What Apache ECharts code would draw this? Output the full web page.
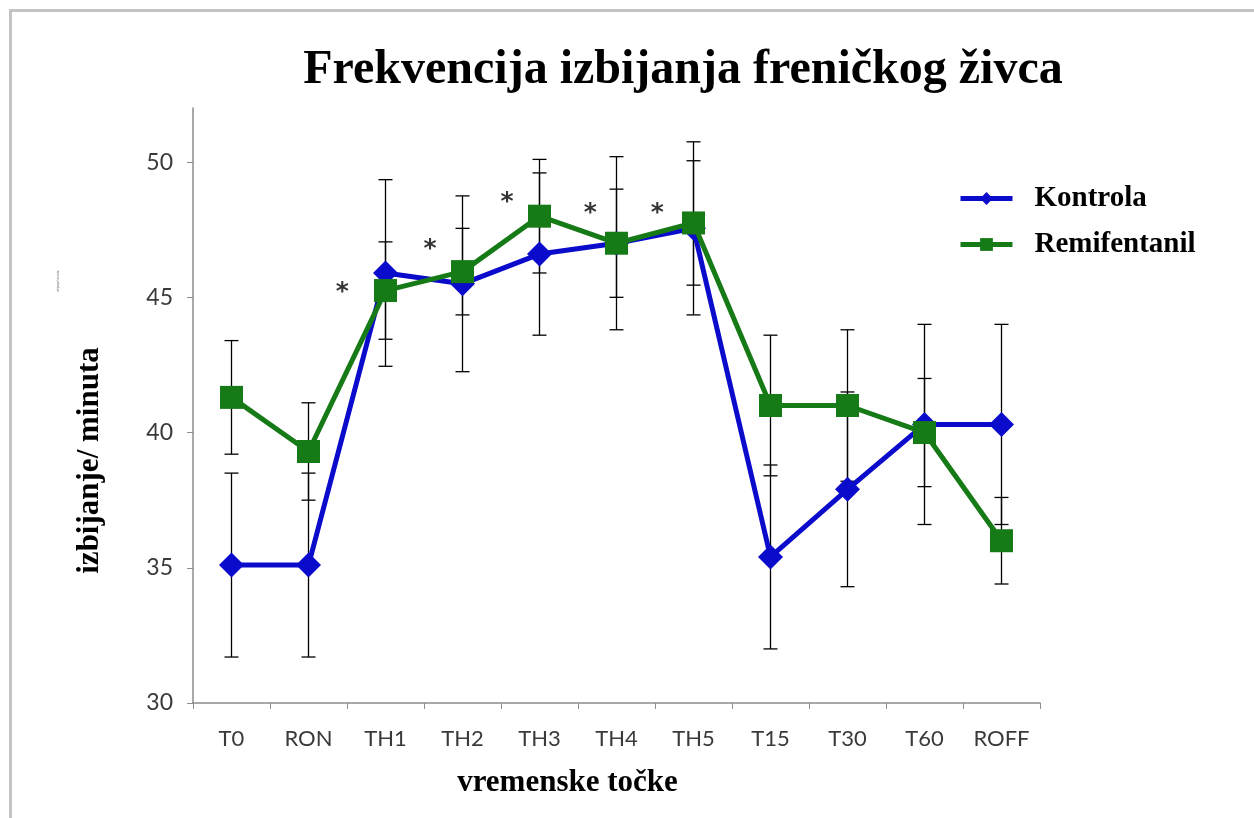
<!DOCTYPE html>
<html>
<head>
<meta charset="utf-8">
<title>Frekvencija izbijanja freničkog živca</title>
<script src="https://cdn.jsdelivr.net/npm/echarts@6/dist/echarts.min.js"></script>
<style>
	html, body { margin: 0; padding: 0; background: #fff; }
	#main { width: 1254px; height: 818px; }
</style>
</head>
<body>
<div id="main"></div>
<script>
	// kategorije (vremenske točke)
	var categories = ['T0', 'RON', 'TH1', 'TH2', 'TH3', 'TH4', 'TH5', 'T15', 'T30', 'T60', 'ROFF'];
	// srednje vrijednosti i SD, očitano sa slike
	var kontrola = [35.1, 35.1, 45.9, 45.5, 46.6, 47.0, 47.55, 35.4, 37.9, 40.3, 40.3];
	var kontrolaSD = [3.4, 3.4, 3.45, 3.25, 3.0, 3.2, 3.2, 3.4, 3.6, 3.7, 3.7];
	var remifentanil = [41.3, 39.3, 45.25, 45.95, 48.0, 47.0, 47.75, 41.0, 41.0, 40.0, 36.0];
	var remifentanilSD = [2.1, 1.8, 1.8, 1.6, 2.1, 2.0, 2.3, 2.6, 2.8, 2.0, 1.6];
	// zvjezdice (p < 0.05), x u jedinicama indeksa kategorije
	var starX = [1.44, 2.58, 3.58, 4.66, 5.53];
	var starY = [45.16, 46.78, 48.52, 48.11, 48.11];
	var yTicks = [30, 35, 40, 45, 50];

	var blue = '#0b0bcc';
	var green = '#167a16';

	function errData(mean, sd) {
		var out = [];
		for (var i = 0; i < mean.length; i++) {
			out.push([i, mean[i] - sd[i], mean[i] + sd[i]]);
		}
		return out;
	}

	function renderErr(params, api) {
		var x = api.value(0);
		var lo = api.coord([x, api.value(1)]);
		var hi = api.coord([x, api.value(2)]);
		var half = 7;
		var style = { stroke: '#000', lineWidth: 1.3 };
		return {
			type: 'group',
			children: [
				{ type: 'line', shape: { x1: lo[0], y1: lo[1], x2: hi[0], y2: hi[1] }, style: style },
				{ type: 'line', shape: { x1: lo[0] - half, y1: lo[1], x2: lo[0] + half, y2: lo[1] }, style: style },
				{ type: 'line', shape: { x1: hi[0] - half, y1: hi[1], x2: hi[0] + half, y2: hi[1] }, style: style }
			]
		};
	}

	var stars = [];
	for (var i = 0; i < starX.length; i++) stars.push([starX[i], starY[i]]);

	var chart = echarts.init(document.getElementById('main'));
	var option = {
		backgroundColor: '#fff',
		animation: false,
		title: {
			text: 'Frekvencija izbijanja freničkog živca',
			left: 678,
			textAlign: 'center',
			top: 42,
			textStyle: {
				fontFamily: 'Liberation Serif',
				fontWeight: 'bold',
				fontSize: 48,
				color: '#000'
			}
		},
		legend: {
			orient: 'vertical',
			left: 958,
			top: 184,
			padding: 0,
			itemWidth: 52,
			itemHeight: 16,
			itemGap: 17,
			data: ['Kontrola', 'Remifentanil'],
			lineStyle: { width: 5 },
			textStyle: {
				fontFamily: 'Liberation Serif',
				fontWeight: 'bold',
				fontSize: 29,
				lineHeight: 28,
				color: '#000',
				padding: [0, 0, 0, 17]
			}
		},
		grid: {
			left: 193,
			right: 214,
			top: 108,
			bottom: 115
		},
		xAxis: [{
			type: 'category',
			data: categories,
			boundaryGap: true,
			axisLine: { lineStyle: { color: '#8c8c8c', width: 1.5 } },
			axisTick: { show: true, length: 6, lineStyle: { color: '#8c8c8c' } },
			axisLabel: {
				margin: 25,
				fontFamily: 'Lato',
				fontSize: 22,
				color: '#3a3a3a'
			},
			name: 'vremenske točke',
			nameLocation: 'middle',
			nameGap: 64,
			nameTextStyle: {
				fontFamily: 'Liberation Serif',
				fontWeight: 'bold',
				fontSize: 31,
				color: '#000',
				padding: [0, 98, 0, 0]
			}
		}, {
			type: 'value',
			min: -0.5,
			max: 10.5,
			show: false
		}],
		yAxis: {
			type: 'value',
			min: 30,
			max: 52,
			interval: 5,
			splitLine: { show: false },
			axisLine: { show: true, onZero: false, lineStyle: { color: '#8c8c8c', width: 1.5 } },
			axisTick: { show: true, length: 6, customValues: yTicks, lineStyle: { color: '#8c8c8c' } },
			axisLabel: {
				margin: 20,
				customValues: yTicks,
				fontFamily: 'Lato',
				fontSize: 23,
				color: '#3a3a3a'
			},
			name: 'izbijanje/ minuta',
			nameLocation: 'middle',
			nameGap: 88,
			nameRotate: 90,
			nameTextStyle: {
				fontFamily: 'Liberation Serif',
				fontWeight: 'bold',
				fontSize: 31,
				color: '#000',
				padding: [0, 110, 0, 0]
			}
		},
		series: [{
			name: 'Kontrola err',
			type: 'custom',
			renderItem: renderErr,
			data: errData(kontrola, kontrolaSD),
			encode: { x: 0, y: [1, 2] },
			z: 1,
			silent: true
		}, {
			name: 'Remifentanil err',
			type: 'custom',
			renderItem: renderErr,
			data: errData(remifentanil, remifentanilSD),
			encode: { x: 0, y: [1, 2] },
			z: 1,
			silent: true
		}, {
			name: 'Kontrola',
			type: 'line',
			data: kontrola,
			symbol: 'diamond',
			symbolSize: [25, 25],
			color: blue,
			lineStyle: { color: blue, width: 5 },
			itemStyle: { color: blue },
			z: 3
		}, {
			name: 'Remifentanil',
			type: 'line',
			data: remifentanil,
			symbol: 'rect',
			symbolSize: 23,
			color: green,
			lineStyle: { color: green, width: 5 },
			itemStyle: { color: green },
			z: 4
		}, {
			name: 'zvjezdice',
			type: 'scatter',
			xAxisIndex: 1,
			data: stars,
			symbolSize: 1,
			itemStyle: { color: 'rgba(0,0,0,0)' },
			label: {
				show: true,
				position: 'inside',
				formatter: '*',
				fontFamily: 'DejaVu Sans',
				fontWeight: 'bold',
				fontSize: 25,
				color: '#000'
			},
			z: 5,
			silent: true
		}],
		graphic: [{
			type: 'rect',
			left: 8,
			top: 8,
			shape: { width: 1300, height: 900 },
			style: { fill: 'none', stroke: '#c4c4c4', lineWidth: 3 },
			silent: true
		}, {
			type: 'text',
			x: 57,
			y: 292,
			rotation: Math.PI / 2,
			style: {
				text: 'izbijanje/ minuta',
				fontSize: 3,
				fill: '#777'
			},
			silent: true
		}]
	};
	chart.setOption(option);
</script>
</body>
</html>
